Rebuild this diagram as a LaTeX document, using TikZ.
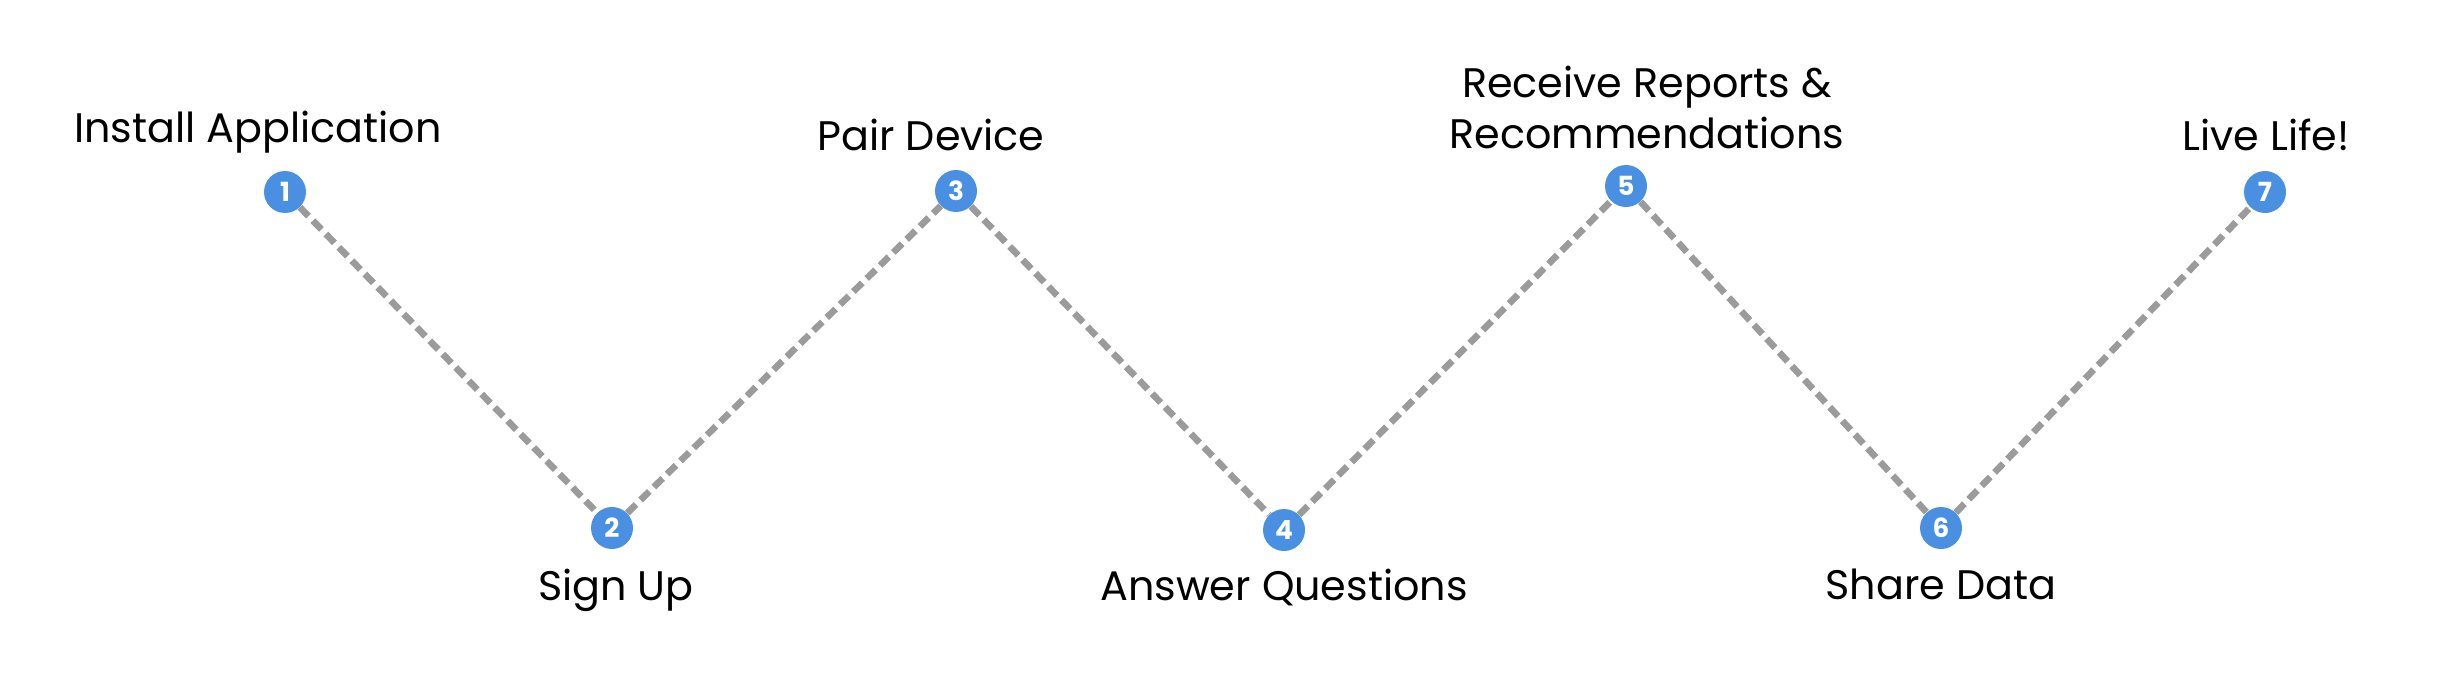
\documentclass[tikz,border=0pt]{standalone}
\usepackage{fontspec}
\setmainfont{Poppins}
\usepackage{tikz}
\usetikzlibrary{calc,positioning}
\definecolor{dotblue}{HTML}{4A90E2}
\definecolor{trailgray}{HTML}{9B9B9B}

\begin{document}
\begin{tikzpicture}[x=0.02cm, y=-0.02cm,
  stepdot/.style={circle, fill=dotblue, minimum size=0.84cm, inner sep=0pt,
    text=white, font=\fontsize{15}{15}\selectfont\bfseries},
  steplabel/.style={anchor=base, align=center,
    font=\fontsize{23.5}{29}\selectfont},
  trail/.style={draw=trailgray, line width=3.8pt, dash pattern=on 7pt off 3.6pt}]

  \useasboundingbox (0,0) rectangle (2463,690);

  \foreach \n/\x/\y in {1/285/192, 2/612/528, 3/956/191, 4/1284/530,
                        5/1626/186, 6/1941/528, 7/2265/192}
    \node[stepdot] (d\n) at (\x,\y) {\n};

  \foreach \a/\b in {1/2, 2/3, 3/4, 4/5, 5/6, 6/7}
    \draw[trail] (d\a) -- (d\b);

  \foreach \n/\x/\y/\lab in {1/258/142/{Install Application},
                             2/616/600/{Sign Up},
                             3/931/150/{Pair Device},
                             4/1284/600/{Answer Questions},
                             6/1941/599/{Share Data},
                             7/2266/150/{Live Life!}}
    \node[steplabel] (l\n) at (\x,\y) {\lab};

  % base of a two-line node sits on its last line
  \node[steplabel] (l5) at (1647,148) {Receive Reports \&\\Recommendations};

\end{tikzpicture}
\end{document}
